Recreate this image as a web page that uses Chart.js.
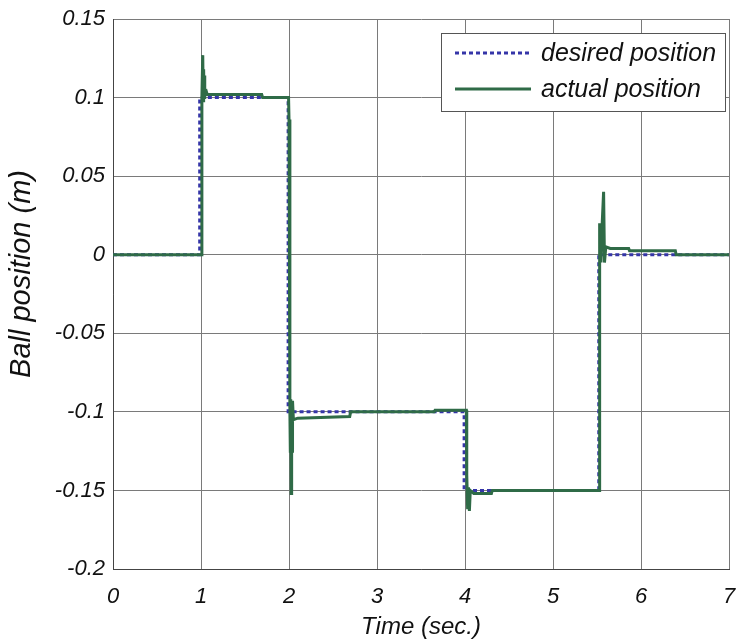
<!DOCTYPE html>
<html>
<head>
<meta charset="utf-8">
<script src="https://cdn.jsdelivr.net/npm/chart.js@4"></script>
<style>
html,body{margin:0;padding:0;background:#fff;}
#wrap{width:743px;height:639px;position:relative;}
</style>
</head>
<body>
<div id="wrap"><canvas id="c" width="743" height="639"></canvas></div>
<script>
// Data
const seriesNames = ["desired position", "actual position"];
const xTitle = "Time (sec.)";
const yTitle = "Ball position (m)";

const desiredT = [0, 0.985, 0.985, 1.99, 1.99, 3.99, 3.99, 5.52, 5.52, 7];
const desiredY = [0, 0, 0.1, 0.1, -0.1, -0.1, -0.15, -0.15, 0, 0];

const actualT = [0, 1.0, 1.01, 1.02, 1.025, 1.03, 1.035, 1.04, 1.045, 1.06, 1.07, 1.69, 1.70, 1.995,
  2.0, 2.01, 2.015, 2.02, 2.025, 2.03, 2.035, 2.04, 2.05, 2.1, 2.69, 2.70, 3.65, 3.66,
  4.015, 4.02, 4.03, 4.04, 4.05, 4.06, 4.1, 4.3, 4.31, 5.525,
  5.53, 5.545, 5.56, 5.575, 5.585, 5.6, 5.65, 5.86, 5.87, 6.39, 6.4, 7];
const actualY = [0, 0, 0.1, 0.127, 0.098, 0.118, 0.1, 0.114, 0.103, 0.104, 0.102, 0.102, 0.1, 0.1,
  0.086, -0.1, -0.125, -0.092, -0.152, -0.095, -0.125, -0.093, -0.105, -0.104, -0.103, -0.1, -0.1, -0.099,
  -0.099, -0.14, -0.162, -0.148, -0.163, -0.15, -0.152, -0.152, -0.15, -0.15,
  0.02, -0.005, 0.021, 0.04, -0.005, 0.005, 0.004, 0.004, 0.0025, 0.0025, 0, 0];

const xTickLabels = ["0", "1", "2", "3", "4", "5", "6", "7"];
const yTickLabels = ["-0.2", "-0.15", "-0.1", "-0.05", "0", "0.05", "0.1", "0.15"];

const FONT = "'Liberation Sans', Arial, Helvetica, sans-serif";
const toXY = (ts, ys) => ts.map((t, i) => ({x: t, y: ys[i]}));

const legendPlugin = {
  id: 'boxLegend',
  afterDraw(chart) {
    const ctx = chart.ctx;
    const x0 = 441, y0 = 33, w = 284, h = 78;
    ctx.save();
    ctx.fillStyle = '#ffffff';
    ctx.fillRect(x0, y0, w, h);
    ctx.strokeStyle = '#555';
    ctx.lineWidth = 1;
    ctx.strokeRect(x0 + 0.5, y0 + 0.5, w, h);
    const rows = [53, 89];
    chart.data.datasets.forEach((ds, i) => {
      ctx.beginPath();
      ctx.strokeStyle = ds.borderColor;
      ctx.lineWidth = ds.borderWidth;
      ctx.setLineDash(ds.borderDash || []);
      ctx.moveTo(455, rows[i]);
      ctx.lineTo(531, rows[i]);
      ctx.stroke();
      ctx.setLineDash([]);
      ctx.fillStyle = '#111';
      ctx.font = "italic 25px " + FONT;
      ctx.textBaseline = 'middle';
      ctx.textAlign = 'left';
      ctx.fillText(ds.label, 541, rows[i] + 1);
    });
    // rotated y-axis title
    ctx.save();
    ctx.translate(22, 274);
    ctx.rotate(-Math.PI / 2);
    ctx.font = "italic 29px " + FONT;
    ctx.fillStyle = '#111';
    ctx.textAlign = 'center';
    ctx.textBaseline = 'middle';
    ctx.fillText(yTitle, 0, 0);
    ctx.restore();
    ctx.restore();
  }
};

new Chart(document.getElementById('c'), {
  type: 'line',
  data: {
    datasets: [
      {
        label: seriesNames[0],
        data: toXY(desiredT, desiredY),
        borderColor: '#3535a8',
        borderWidth: 3,
        borderDash: [4, 3],
        pointRadius: 0,
        tension: 0,
        order: 1
      },
      {
        label: seriesNames[1],
        data: toXY(actualT, actualY),
        borderColor: '#2f6b47',
        borderWidth: 3,
        pointRadius: 0,
        tension: 0,
        order: 0
      }
    ]
  },
  options: {
    responsive: false,
    animation: false,
    layout: {padding: {left: 0, right: 14, top: 19, bottom: 0}},
    plugins: {legend: {display: false}, tooltip: {enabled: false}},
    scales: {
      x: {
        type: 'linear',
        min: 0, max: 7,
        afterFit(s) { s.height = 70; s.paddingLeft = 0; s.paddingRight = 0; },
        ticks: {
          stepSize: 1,
          padding: 17,
          color: '#111',
          font: {family: FONT, size: 22, style: 'italic', lineHeight: 1},
          callback: (v) => xTickLabels[Math.round(v)]
        },
        grid: {color: '#7a7a7a', lineWidth: 1, drawTicks: false},
        border: {color: '#444', width: 1},
        title: {
          display: true,
          text: xTitle,
          color: '#111',
          padding: {top: 0, bottom: 0},
          font: {family: FONT, size: 24, style: 'italic', lineHeight: 1}
        }
      },
      y: {
        type: 'linear',
        min: -0.2, max: 0.15,
        afterFit(s) { s.width = 113; s.paddingTop = 0; s.paddingBottom = 0; },
        ticks: {
          stepSize: 0.05,
          padding: 8,
          color: '#111',
          font: {family: FONT, size: 22, style: 'italic', lineHeight: 1},
          callback: (v) => yTickLabels[Math.round((v + 0.2) / 0.05)]
        },
        grid: {color: '#7a7a7a', lineWidth: 1, drawTicks: false},
        border: {color: '#444', width: 1},
        title: {display: false}
      }
    }
  },
  plugins: [legendPlugin]
});
</script>
</body>
</html>
